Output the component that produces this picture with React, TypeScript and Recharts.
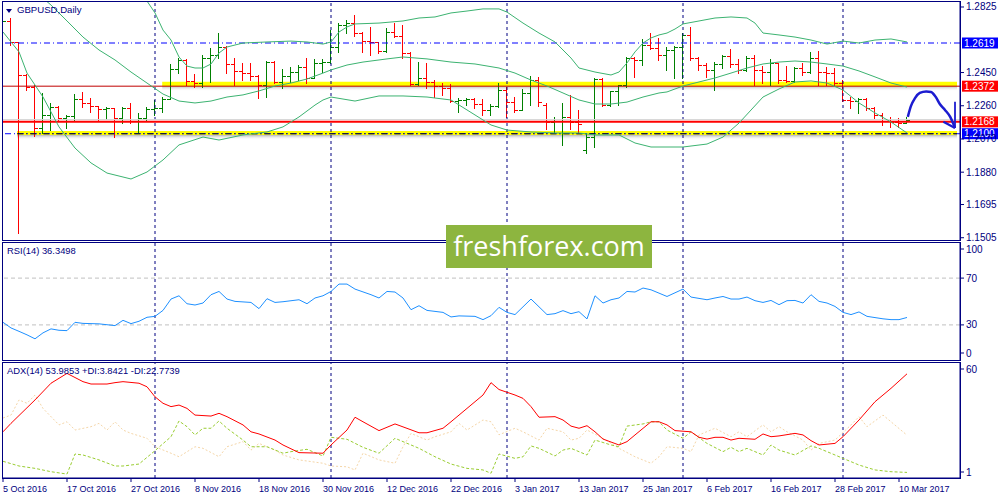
import { ComposedChart, Bar, Line, XAxis, YAxis, ReferenceLine, ReferenceArea } from 'recharts'

// GBPUSD daily bars, 5 Oct 2016 .. 13 Mar 2017 (one entry per bar)
const OPEN = [
  1.2688, 1.2745, 1.2622, 1.2436, 1.2367, 1.2133, 1.2207, 1.2253, 1.2190, 1.2201,
  1.2299, 1.2276, 1.2259, 1.2242, 1.2247, 1.2190, 1.2247, 1.2173, 1.2190, 1.2242,
  1.2247, 1.2299, 1.2470, 1.2522, 1.2402, 1.2390, 1.2533, 1.2550, 1.2596, 1.2499,
  1.2459, 1.2447, 1.2430, 1.2379, 1.2510, 1.2396, 1.2430, 1.2453, 1.2482, 1.2419,
  1.2505, 1.2510, 1.2596, 1.2722, 1.2733, 1.2676, 1.2630, 1.2625, 1.2573, 1.2682,
  1.2659, 1.2562, 1.2385, 1.2419, 1.2396, 1.2373, 1.2362, 1.2287, 1.2293, 1.2299,
  1.2270, 1.2236, 1.2259, 1.2350, 1.2281, 1.2236, 1.2333, 1.2407, 1.2264, 1.2167,
  1.2173, 1.2196, 1.2167, 1.2007, 1.2081, 1.2413, 1.2264, 1.2345, 1.2379, 1.2533,
  1.2522, 1.2608, 1.2590, 1.2550, 1.2579, 1.2596, 1.2665, 1.2533, 1.2493, 1.2465,
  1.2499, 1.2545, 1.2499, 1.2465, 1.2533, 1.2465, 1.2453, 1.2505, 1.2407, 1.2402,
  1.2476, 1.2453, 1.2533, 1.2453, 1.2447, 1.2390, 1.2293, 1.2287, 1.2299, 1.2247,
  1.2207, 1.2173, 1.2167, 1.2161,
]
const HIGH = [
  1.2762, 1.2762, 1.2625, 1.2440, 1.2379, 1.2333, 1.2276, 1.2259, 1.2207, 1.2327,
  1.2339, 1.2304, 1.2259, 1.2253, 1.2250, 1.2253, 1.2276, 1.2219, 1.2253, 1.2293,
  1.2310, 1.2499, 1.2533, 1.2525, 1.2442, 1.2550, 1.2590, 1.2676, 1.2600, 1.2533,
  1.2505, 1.2505, 1.2436, 1.2516, 1.2516, 1.2470, 1.2482, 1.2493, 1.2533, 1.2528,
  1.2528, 1.2693, 1.2733, 1.2751, 1.2779, 1.2682, 1.2711, 1.2625, 1.2705, 1.2733,
  1.2722, 1.2568, 1.2510, 1.2505, 1.2407, 1.2390, 1.2385, 1.2304, 1.2302, 1.2302,
  1.2299, 1.2270, 1.2390, 1.2367, 1.2310, 1.2356, 1.2430, 1.2425, 1.2276, 1.2196,
  1.2276, 1.2322, 1.2236, 1.2104, 1.2419, 1.2419, 1.2345, 1.2379, 1.2539, 1.2539,
  1.2642, 1.2676, 1.2648, 1.2596, 1.2602, 1.2676, 1.2711, 1.2539, 1.2505, 1.2510,
  1.2550, 1.2585, 1.2528, 1.2545, 1.2550, 1.2487, 1.2528, 1.2505, 1.2487, 1.2482,
  1.2505, 1.2568, 1.2573, 1.2482, 1.2476, 1.2407, 1.2310, 1.2304, 1.2304, 1.2253,
  1.2219, 1.2196, 1.2190, 1.2196,
]
const LOW = [
  1.2682, 1.2608, 1.1532, 1.2350, 1.2087, 1.2104, 1.2121, 1.2179, 1.2133, 1.2179,
  1.2253, 1.2224, 1.2179, 1.2184, 1.2081, 1.2161, 1.2161, 1.2110, 1.2173, 1.2207,
  1.2224, 1.2299, 1.2447, 1.2379, 1.2367, 1.2367, 1.2396, 1.2533, 1.2447, 1.2379,
  1.2407, 1.2407, 1.2304, 1.2310, 1.2390, 1.2362, 1.2396, 1.2407, 1.2390, 1.2419,
  1.2453, 1.2505, 1.2568, 1.2676, 1.2659, 1.2568, 1.2550, 1.2562, 1.2568, 1.2653,
  1.2533, 1.2379, 1.2379, 1.2362, 1.2310, 1.2322, 1.2281, 1.2224, 1.2264, 1.2247,
  1.2207, 1.2207, 1.2253, 1.2196, 1.2224, 1.2236, 1.2264, 1.2259, 1.2127, 1.2104,
  1.2036, 1.2127, 1.2104, 1.1990, 1.2024, 1.2259, 1.2259, 1.2264, 1.2367, 1.2425,
  1.2493, 1.2585, 1.2522, 1.2465, 1.2419, 1.2419, 1.2522, 1.2465, 1.2425, 1.2350,
  1.2476, 1.2482, 1.2447, 1.2459, 1.2379, 1.2390, 1.2379, 1.2390, 1.2396, 1.2396,
  1.2436, 1.2447, 1.2379, 1.2379, 1.2379, 1.2287, 1.2247, 1.2219, 1.2236, 1.2190,
  1.2150, 1.2139, 1.2139, 1.2161,
]
const CLOSE = [
  1.2745, 1.2622, 1.2436, 1.2367, 1.2133, 1.2207, 1.2253, 1.2190, 1.2201, 1.2299,
  1.2276, 1.2259, 1.2242, 1.2247, 1.2190, 1.2247, 1.2173, 1.2190, 1.2242, 1.2247,
  1.2299, 1.2470, 1.2522, 1.2402, 1.2390, 1.2533, 1.2550, 1.2596, 1.2499, 1.2459,
  1.2447, 1.2430, 1.2379, 1.2510, 1.2396, 1.2430, 1.2453, 1.2482, 1.2419, 1.2505,
  1.2510, 1.2596, 1.2722, 1.2733, 1.2676, 1.2630, 1.2625, 1.2573, 1.2682, 1.2659,
  1.2562, 1.2385, 1.2419, 1.2396, 1.2373, 1.2362, 1.2287, 1.2293, 1.2299, 1.2270,
  1.2236, 1.2259, 1.2350, 1.2281, 1.2236, 1.2333, 1.2407, 1.2281, 1.2167, 1.2173,
  1.2196, 1.2167, 1.2156, 1.2081, 1.2413, 1.2264, 1.2345, 1.2379, 1.2533, 1.2522,
  1.2608, 1.2590, 1.2550, 1.2579, 1.2596, 1.2665, 1.2533, 1.2493, 1.2465, 1.2499,
  1.2545, 1.2499, 1.2465, 1.2533, 1.2465, 1.2453, 1.2505, 1.2407, 1.2402, 1.2476,
  1.2453, 1.2533, 1.2453, 1.2447, 1.2390, 1.2293, 1.2287, 1.2299, 1.2247, 1.2207,
  1.2173, 1.2167, 1.2161, 1.2179,
]

// Bollinger bands (20), read as [bar, price]
const BB_UPPER = [
  [17, 1.2934], [18, 1.2859], [19, 1.2791], [20, 1.2693], [21, 1.2636], [22, 1.2539], [23, 1.2487],
  [24, 1.2476], [25, 1.2476], [26, 1.2499], [27, 1.2562], [28, 1.2596], [30, 1.2619], [33, 1.2625],
  [36, 1.263], [38, 1.2625], [40, 1.2613], [41, 1.2625], [42, 1.2682], [43, 1.2711], [44, 1.2728],
  [47, 1.2733], [50, 1.2745], [52, 1.2762], [54, 1.2768], [56, 1.2791], [58, 1.2802], [60, 1.2814],
  [62, 1.2814], [63, 1.2796], [65, 1.2733], [67, 1.2676], [69, 1.2625], [71, 1.2533], [72, 1.2476],
  [74, 1.2453], [76, 1.2436], [77, 1.2453], [78, 1.2505], [79, 1.2568], [80, 1.2619], [81, 1.2648],
  [82, 1.2665], [83, 1.2676], [84, 1.2699], [85, 1.2728], [87, 1.2745], [89, 1.2762], [91, 1.2768],
  [93, 1.2762], [94, 1.2733], [95, 1.2676], [97, 1.2665], [99, 1.2653], [101, 1.2636], [103, 1.2613],
  [105, 1.263], [107, 1.2619], [109, 1.2636], [111, 1.2642], [113, 1.2625],
]
const BB_MIDDLE = [
  [4, 1.2911], [5, 1.2876], [6, 1.2836], [8, 1.2745], [10, 1.2653], [12, 1.2579], [14, 1.2522],
  [16, 1.2453], [18, 1.239], [20, 1.2327], [22, 1.2287], [24, 1.2276], [26, 1.2287], [28, 1.231],
  [30, 1.2322], [32, 1.2345], [34, 1.2373], [36, 1.239], [38, 1.2413], [40, 1.2447], [41, 1.2465],
  [43, 1.2493], [45, 1.251], [48, 1.2528], [50, 1.2539], [53, 1.2528], [56, 1.251], [59, 1.2499],
  [62, 1.2476], [64, 1.2447], [66, 1.2407], [68, 1.2373], [70, 1.2333], [72, 1.2293], [74, 1.227],
  [76, 1.227], [78, 1.2281], [80, 1.231], [82, 1.2333], [83, 1.2339], [85, 1.2373], [87, 1.2396],
  [89, 1.2419], [91, 1.2447], [93, 1.2476], [95, 1.2499], [97, 1.251], [99, 1.2516], [101, 1.251],
  [103, 1.2499], [105, 1.2487], [107, 1.2459], [109, 1.2425], [111, 1.239], [113, 1.2367],
]
const BB_LOWER = [
  [0, 1.2682], [2, 1.2568], [3, 1.2447], [5, 1.231], [7, 1.2139], [9, 1.2018], [11, 1.1933],
  [13, 1.1875], [16, 1.1841], [18, 1.1881], [20, 1.195], [22, 1.2036], [25, 1.2081], [27, 1.2064],
  [30, 1.2093], [33, 1.211], [35, 1.2139], [37, 1.2196], [39, 1.2264], [40, 1.2293], [41, 1.231],
  [44, 1.2287], [47, 1.2316], [50, 1.2316], [53, 1.231], [56, 1.2293], [58, 1.2236], [61, 1.215],
  [63, 1.2121], [66, 1.211], [69, 1.2104], [72, 1.2104], [74, 1.2093], [77, 1.2093], [79, 1.2047],
  [81, 1.2024], [83, 1.2024], [85, 1.2024], [88, 1.2041], [90, 1.2081], [92, 1.2161], [95, 1.231],
  [97, 1.2356], [99, 1.2396], [101, 1.2402], [103, 1.239], [105, 1.235], [107, 1.2276], [109, 1.2219],
  [111, 1.2167], [113, 1.2104],
]

const RSI = [
  [0, 32.2], [1, 27.4], [2, 24.5], [3, 21.5], [4, 18.1], [5, 23.2], [6, 26.6], [7, 25.4], [8, 25.1],
  [9, 32.2], [10, 31.3], [12, 30.9], [14, 29.4], [15, 33.9], [16, 31.1], [17, 33.1], [18, 36.5],
  [19, 37.3], [20, 42.4], [21, 52.1], [22, 54.9], [23, 48.1], [24, 47.0], [25, 48.7], [26, 55.8],
  [27, 58.6], [28, 52.1], [29, 50.1], [31, 49.2], [32, 43.9], [33, 52.4], [34, 49.2], [35, 49.8],
  [37, 51.5], [38, 48.1], [39, 53.0], [40, 54.9], [41, 58.6], [42, 64.9], [43, 64.9], [44, 60.6],
  [46, 55.8], [47, 53.0], [48, 58.6], [49, 58.1], [50, 53.0], [51, 43.0], [52, 46.4], [53, 42.4],
  [55, 40.7], [56, 36.8], [57, 37.7], [59, 37.3], [60, 34.5], [61, 37.9], [62, 45.0], [63, 40.7],
  [64, 38.8], [66, 52.1], [68, 38.8], [69, 39.6], [70, 42.2], [71, 39.6], [72, 41.3], [73, 35.1],
  [74, 54.9], [75, 48.7], [76, 51.5], [77, 53.0], [78, 58.6], [79, 58.1], [80, 61.5], [81, 60.0],
  [83, 54.3], [85, 60.6], [86, 53.8], [88, 51.5], [89, 53.0], [90, 54.3], [91, 52.1], [92, 52.1],
  [93, 53.8], [94, 50.7], [95, 49.2], [96, 50.9], [97, 47.3], [98, 50.7], [99, 50.9], [100, 48.7],
  [101, 55.8], [102, 50.1], [103, 48.7], [104, 45.8], [105, 40.7], [106, 38.8], [107, 41.1],
  [108, 37.3], [110, 35.2], [111, 34.5], [112, 34.5], [113, 36.35],
]

const ADX = [
  [0, 24.5], [1, 28.8], [4, 40.7], [6, 49.2], [8, 54.2], [10, 50.0], [11, 48.8], [13, 48.8], [14, 49.5],
  [15, 50.0], [17, 49.2], [18, 47.4], [19, 42.3], [20, 39.0], [21, 37.3], [22, 38.1], [23, 36.4],
  [24, 33.0], [26, 32.5], [27, 33.9], [28, 32.2], [30, 28.0], [31, 24.5], [32, 23.4], [34, 20.3],
  [35, 17.8], [37, 13.9], [40, 13.6], [41, 17.8], [43, 25.4], [44, 31.9], [45, 29.6], [47, 25.1],
  [49, 28.5], [52, 24.0], [53, 24.0], [55, 26.3], [56, 29.6], [58, 36.4], [60, 43.2], [61, 49.5],
  [62, 46.0], [64, 43.2], [65, 41.5], [66, 37.3], [67, 31.9], [69, 32.2], [70, 30.5], [71, 27.4],
  [72, 26.3], [73, 27.6], [74, 24.5], [75, 20.8], [77, 17.8], [78, 19.5], [79, 22.9], [81, 29.6],
  [82, 29.6], [83, 28.0], [84, 25.1], [86, 24.5], [87, 21.7], [88, 20.8], [89, 21.7], [90, 21.7],
  [91, 20.3], [92, 21.2], [94, 20.7], [95, 23.4], [96, 22.0], [97, 22.4], [99, 23.7], [100, 22.9],
  [101, 20.0], [102, 17.8], [104, 18.6], [105, 22.0], [107, 30.5], [109, 39.8], [111, 46.6], [113, 53.99],
]
const PLUS_DI = [
  [0, 9.5], [2, 7.1], [4, 5.9], [6, 4.2], [8, 3.0], [9, 13.2], [10, 12.7], [12, 10.2], [14, 7.1],
  [15, 7.1], [17, 8.1], [19, 14.9], [21, 22.0], [22, 30.0], [23, 27.1], [24, 22.9], [25, 26.3],
  [26, 26.3], [27, 30.0], [28, 26.3], [30, 20.3], [31, 16.9], [33, 16.9], [35, 13.6], [36, 14.4],
  [38, 15.6], [40, 12.2], [41, 21.7], [43, 20.7], [45, 16.6], [47, 13.6], [49, 21.2], [52, 16.1],
  [54, 11.8], [56, 8.1], [58, 5.9], [60, 5.1], [61, 3.4], [62, 13.2], [64, 11.0], [65, 11.8],
  [66, 17.3], [67, 16.1], [69, 12.2], [70, 15.2], [71, 16.1], [73, 12.7], [74, 20.3], [76, 17.8],
  [77, 16.9], [78, 27.4], [80, 28.5], [81, 29.6], [82, 29.6], [83, 25.4], [85, 21.2], [86, 24.5],
  [88, 18.6], [90, 14.4], [91, 16.6], [92, 14.4], [93, 16.1], [95, 12.7], [96, 17.8], [97, 15.2],
  [99, 12.7], [101, 17.3], [102, 16.1], [105, 11.0], [107, 7.6], [109, 5.1], [111, 4.2], [113, 3.84],
]
const MINUS_DI = [
  [0, 31.5], [1, 33.0], [2, 40.7], [3, 39.0], [4, 43.2], [5, 36.4], [7, 28.0], [8, 29.6], [9, 25.4],
  [11, 27.1], [12, 28.8], [13, 25.4], [14, 29.6], [15, 25.4], [16, 23.7], [18, 21.2], [19, 16.9],
  [21, 13.6], [22, 11.8], [24, 16.9], [25, 16.1], [27, 11.8], [28, 16.9], [30, 19.5], [31, 15.2],
  [32, 18.6], [34, 15.2], [35, 12.7], [37, 10.2], [40, 8.5], [41, 7.1], [43, 6.7], [44, 5.1],
  [45, 13.6], [47, 10.2], [49, 8.5], [50, 16.9], [51, 23.7], [53, 20.3], [54, 22.0], [56, 24.5],
  [57, 28.8], [58, 25.4], [60, 30.5], [61, 29.6], [62, 23.0], [64, 26.3], [65, 24.5], [67, 20.3],
  [68, 26.3], [70, 24.5], [71, 20.3], [72, 21.2], [73, 25.4], [75, 21.2], [77, 16.1], [79, 11.8],
  [81, 8.5], [82, 11.8], [83, 16.9], [85, 16.1], [86, 14.4], [87, 22.9], [89, 26.3], [91, 22.0],
  [92, 24.5], [93, 22.0], [95, 28.0], [96, 24.5], [97, 27.1], [98, 24.5], [100, 20.3], [101, 15.2],
  [102, 18.6], [104, 20.3], [106, 28.0], [107, 32.2], [108, 27.1], [110, 33.0], [111, 29.6], [113, 22.77],
]

// hand-drawn forecast arrow, [bar, price]
const ARROW = [
  [113.1, 1.2196], [113.5, 1.2259], [114.0, 1.2304], [114.6, 1.2333], [115.4, 1.2342], [116.0, 1.2339],
  [116.6, 1.231], [117.1, 1.227], [117.75, 1.2236], [118.4, 1.2196], [118.75, 1.2161], [119.0, 1.2133],
]
const ARROW_BARB_A = [[119.0, 1.2133], [119.0, 1.2283]]
const ARROW_BARB_B = [[117.55, 1.2169], [119.0, 1.2133]]

const TICK_IDX = [0, 8, 16, 24, 32, 40, 48, 56, 64, 72, 80, 88, 96, 104, 112]
const DATE_LABELS = [
  '5 Oct 2016', '17 Oct 2016', '27 Oct 2016', '8 Nov 2016', '18 Nov 2016', '30 Nov 2016',
  '12 Dec 2016', '22 Dec 2016', '3 Jan 2017', '13 Jan 2017', '25 Jan 2017', '6 Feb 2017',
  '16 Feb 2017', '28 Feb 2017', '10 Mar 2017',
]
const MONTH_STARTS = [19, 41, 63, 85, 105]
const PRICE_TICKS = [1.1505, 1.1695, 1.188, 1.207, 1.226, 1.245, 1.2825]

const LEVELS = [
  { price: 1.2619, color: '#0000ff', width: 1, dash: '6 3 1 3', tag: '#0000ff' },
  { price: 1.2372, color: '#c00000', width: 1, dash: undefined, tag: '#ff0000' },
  { price: 1.2168, color: '#ff0000', width: 2, dash: undefined, tag: '#ff0000' },
  { price: 1.21, color: '#0000ff', width: 1, dash: '6 3 1 3', tag: '#0000ff' },
]
// yellow highlighter zones [fromBar, toBar, low, high]
const ZONES = [
  [19.9, 119.25, 1.2372, 1.2398],
  [1.75, 119.25, 1.2093, 1.2115],
]

const NAVY = '#000080'
const FONT = '"Liberation Sans", Arial, sans-serif'
const X_DOMAIN: [number, number] = [-0.125, 119.625]
const PRICE_DOMAIN: [number, number] = [1.1492, 1.28593]
const W = 1000

const bars = OPEN.map((o, i) => ({ i, o, h: HIGH[i], l: LOW[i], c: CLOSE[i], range: [LOW[i], HIGH[i]] }))
const pts = (a: number[][]) => a.map(([i, v]) => ({ i, v }))

function OhlcBar(props: any) {
  const { x, y, width, height, payload } = props
  if (!payload || x == null || y == null) return null
  const { o, h, l, c } = payload
  const top = Math.min(y, y + height)
  const bot = Math.max(y, y + height)
  const span = h - l || 1
  const py = (v: number) => Math.round(top + ((h - v) / span) * (bot - top)) + 0.5
  const cx = Math.floor(x + width / 2) + 0.5
  const color = c >= o ? '#008000' : '#ff0000'
  return (
    <g stroke={color} strokeWidth={1}>
      <line x1={cx} x2={cx} y1={Math.round(top)} y2={Math.round(bot) + 1} />
      <line x1={cx - 3.5} x2={cx} y1={py(o)} y2={py(o)} />
      <line x1={cx} x2={cx + 3.5} y1={py(c)} y2={py(c)} />
    </g>
  )
}

function AxisTick({ x, y, payload, digits, shift }: any) {
  const dy = (shift && shift[payload.value]) || 0
  const yy = y + dy
  return (
    <g>
      <line x1={x - 5} x2={x - 2} y1={yy} y2={yy} stroke={NAVY} />
      <text x={x} y={yy} dy="0.35em" fill={NAVY} fontSize={10} fontFamily={FONT}>
        {Number(payload.value).toFixed(digits)}
      </text>
    </g>
  )
}

function DateTick({ x, y, payload }: any) {
  const k = TICK_IDX.indexOf(payload.value)
  return (
    <text x={x} y={y + 8} fill={NAVY} fontSize={9} fontFamily={FONT} textAnchor="start">
      {DATE_LABELS[k]}
    </text>
  )
}

function PriceTag({ viewBox, text, fill }: any) {
  if (!viewBox) return null
  const left = viewBox.x + viewBox.width + 2
  return (
    <g>
      <rect x={left} y={viewBox.y - 5.5} width={36} height={11} fill={fill} />
      <text x={left + 2} y={viewBox.y} dy="0.36em" fill="#fff" fontSize={10} fontFamily={FONT}>{text}</text>
    </g>
  )
}

const separators = (key: string) =>
  MONTH_STARTS.map(m => (
    <ReferenceLine key={key + m} x={m} stroke={NAVY} strokeDasharray="3 3" strokeWidth={1} />
  ))

const paneLabel = { position: 'absolute' as const, fontFamily: FONT, fontSize: 9.4, color: NAVY, lineHeight: '12px', whiteSpace: 'nowrap' as const }

export default function App() {
  return (
    <div style={{ position: 'absolute', left: 0, top: 0, width: W, height: 500, background: '#fff', overflow: 'hidden' }}>
      {/* price pane */}
      <div style={{ position: 'absolute', left: 0, top: 0 }}>
        <ComposedChart width={W} height={247} data={bars} margin={{ top: 1, right: 0, bottom: 7, left: 2 }}>
          <defs>
            <linearGradient id="zoneShadow" x1="0" y1="0" x2="0" y2="1">
              <stop offset="0%" stopColor="#7a7a7a" stopOpacity={0.55} />
              <stop offset="100%" stopColor="#ffffff" stopOpacity={0} />
            </linearGradient>
          </defs>
          <XAxis type="number" dataKey="i" domain={X_DOMAIN} allowDataOverflow hide />
          <YAxis
            orientation="right" width={40} domain={PRICE_DOMAIN} allowDataOverflow
            ticks={PRICE_TICKS} interval={0} tickLine={false} tickSize={0} tickMargin={6}
            axisLine={{ stroke: NAVY }} tick={(p: any) => <AxisTick {...p} digits={4} />}
          />
          {ZONES.map(([a, b, lo], k) => (
            <ReferenceArea key={'sh' + k} x1={a} x2={b} y1={lo - 0.0028} y2={lo} fill="url(#zoneShadow)" fillOpacity={1} stroke="none" ifOverflow="hidden" />
          ))}
          {ZONES.map(([a, b, lo, hi], k) => (
            <ReferenceArea key={'z' + k} x1={a} x2={b} y1={lo} y2={hi} fill="#ffff00" fillOpacity={1} stroke="none" ifOverflow="hidden" />
          ))}
          {separators('m')}
          <ReferenceLine y={1.2181} stroke="#d6d6d6" strokeWidth={1} />
          {LEVELS.map(lv => (
            <ReferenceLine
              key={lv.price} y={lv.price} stroke={lv.color} strokeWidth={lv.width} strokeDasharray={lv.dash}
              label={<PriceTag text={lv.price.toFixed(4)} fill={lv.tag} />}
            />
          ))}
          <ReferenceLine
            segment={[{ x: ZONES[1][0], y: 1.21 }, { x: ZONES[1][1], y: 1.21 }]}
            stroke="#101020" strokeDasharray="6 3 1 3"
          />
          <Line data={pts(BB_UPPER)} dataKey="v" stroke="#3cb371" strokeWidth={1} dot={false} activeDot={false} isAnimationActive={false} />
          <Line data={pts(BB_MIDDLE)} dataKey="v" stroke="#3cb371" strokeWidth={1} dot={false} activeDot={false} isAnimationActive={false} />
          <Line data={pts(BB_LOWER)} dataKey="v" stroke="#3cb371" strokeWidth={1} dot={false} activeDot={false} isAnimationActive={false} />
          <Bar dataKey="range" barSize={4} shape={<OhlcBar />} isAnimationActive={false} />
          <Line data={pts(ARROW)} dataKey="v" type="monotone" stroke="#1c1cd0" strokeWidth={2.5} dot={false} activeDot={false} isAnimationActive={false} />
          <Line data={pts(ARROW_BARB_A)} dataKey="v" stroke="#1c1cd0" strokeWidth={1.8} dot={false} activeDot={false} isAnimationActive={false} />
          <Line data={pts(ARROW_BARB_B)} dataKey="v" stroke="#1c1cd0" strokeWidth={2.2} dot={false} activeDot={false} isAnimationActive={false} />
        </ComposedChart>
      </div>

      {/* RSI pane */}
      <div style={{ position: 'absolute', left: 0, top: 242 }}>
        <ComposedChart width={W} height={119} margin={{ top: 1, right: 0, bottom: 1, left: 2 }}>
          <XAxis type="number" dataKey="i" domain={X_DOMAIN} allowDataOverflow hide />
          <YAxis
            orientation="right" width={40} domain={[0, 100]} allowDataOverflow
            ticks={[0, 30, 70, 100]} interval={0} tickLine={false} tickSize={0} tickMargin={6}
            axisLine={{ stroke: NAVY }} tick={(p: any) => <AxisTick {...p} digits={0} shift={{ 100: 6, 0: -7 }} />}
          />
          <ReferenceLine y={70} stroke="#c0c0c0" strokeDasharray="4 3" />
          <ReferenceLine y={30} stroke="#c0c0c0" strokeDasharray="4 3" />
          {separators('r')}
          <Line data={pts(RSI)} dataKey="v" stroke="#1e90ff" strokeWidth={1} dot={false} activeDot={false} isAnimationActive={false} />
        </ComposedChart>
      </div>

      {/* ADX pane */}
      <div style={{ position: 'absolute', left: 0, top: 362 }}>
        <ComposedChart width={W} height={138} margin={{ top: 0, right: 0, bottom: 0, left: 2 }}>
          <XAxis
            type="number" dataKey="i" domain={X_DOMAIN} allowDataOverflow height={22}
            ticks={TICK_IDX} interval={0} tickSize={4} tickMargin={2}
            axisLine={{ stroke: NAVY }} tickLine={{ stroke: NAVY }} tick={<DateTick />}
          />
          <YAxis
            orientation="right" width={40} domain={[1, 60]} allowDataOverflow
            ticks={[1, 60]} interval={0} tickLine={false} tickSize={0} tickMargin={6}
            axisLine={{ stroke: NAVY }} tick={(p: any) => <AxisTick {...p} digits={0} shift={{ 60: 7, 1: -6 }} />}
          />
          {separators('a')}
          <Line data={pts(MINUS_DI)} dataKey="v" stroke="#f5d6a8" strokeWidth={1} strokeDasharray="2 2" dot={false} activeDot={false} isAnimationActive={false} />
          <Line data={pts(PLUS_DI)} dataKey="v" stroke="#9acd32" strokeWidth={1} strokeDasharray="3 2" dot={false} activeDot={false} isAnimationActive={false} />
          <Line data={pts(ADX)} dataKey="v" stroke="#ff0000" strokeWidth={1} dot={false} activeDot={false} isAnimationActive={false} />
        </ComposedChart>
      </div>

      {/* pane frames */}
      <div style={{ position: 'absolute', left: 2, top: 1, width: 959, height: 240, border: `1px solid ${NAVY}`, boxSizing: 'border-box', pointerEvents: 'none' }} />
      <div style={{ position: 'absolute', left: 2, top: 242, width: 959, height: 119, border: `1px solid ${NAVY}`, boxSizing: 'border-box', pointerEvents: 'none' }} />
      <div style={{ position: 'absolute', left: 2, top: 362, width: 959, height: 117, border: `1px solid ${NAVY}`, boxSizing: 'border-box', pointerEvents: 'none' }} />

      {/* pane captions */}
      <div style={{ position: 'absolute', left: 6, top: 9, width: 0, height: 0, borderLeft: '3.5px solid transparent', borderRight: '3.5px solid transparent', borderTop: `4px solid ${NAVY}` }} />
      <div style={{ ...paneLabel, left: 17, top: 4, fontSize: 9.6 }}>GBPUSD,Daily</div>
      <div style={{ ...paneLabel, left: 7, top: 245 }}>RSI(14) 36.3498</div>
      <div style={{ ...paneLabel, left: 7, top: 365 }}>ADX(14) 53.9853 +DI:3.8421 -DI:22.7739</div>

      {/* watermark */}
      <div style={{
        position: 'absolute', left: 446, top: 225, width: 206, height: 43, background: '#8db53f',
        color: '#fff', fontFamily: '"Open Sans", sans-serif', fontSize: 27, lineHeight: '42px', textAlign: 'center',
      }}>
        freshforex.com
      </div>
    </div>
  )
}
